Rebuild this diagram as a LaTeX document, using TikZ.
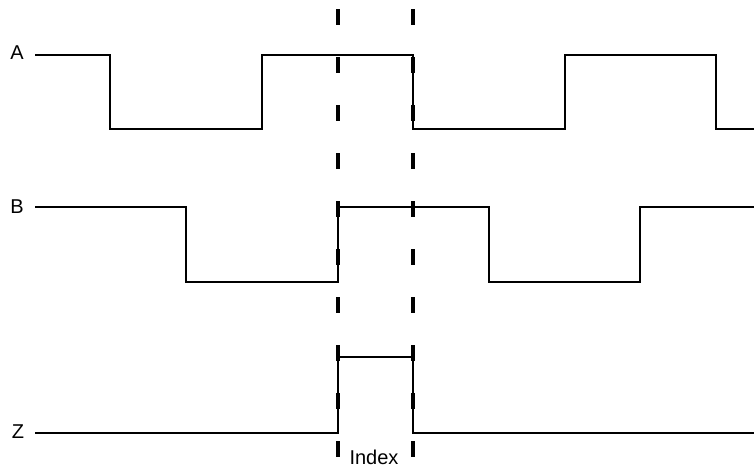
\documentclass[tikz,border=0pt]{standalone}
\usepackage{fontspec}
\setmainfont{Liberation Sans}
\begin{document}
\begin{tikzpicture}[x=1pt, y=-1pt]
% timing diagram of a quadrature encoder with index pulse
\providecommand{\sigLineWidth}{2.4pt}
\providecommand{\idxLineWidth}{4pt}
\tikzset{
  signal/.style={line width=\sigLineWidth, line join=miter},
  indexmark/.style={line width=\idxLineWidth, dash pattern=on 16pt off 32pt},
  siglabel/.style={font=\fontsize{20}{22}\selectfont, inner sep=0pt}
}
\useasboundingbox (0,0) rectangle (754,469);
% Signal labels
\node[siglabel] (labA) at (17,53) {A};
\node[siglabel] (labB) at (17,207) {B};
\node[siglabel] (labZ) at (18,432) {Z};
% Channel A
\draw[signal] (35,55) -| (110,129) -| (262,55) -| (413,129) -| (565,55) -| (716,129) -- (754,129);
% Channel B
\draw[signal] (35,207) -| (186,282) -| (338,207) -| (489,282) -| (640,207) -- (754,207);
% Index channel
\draw[signal] (35,433) -| (338,357) -| (413,433) -- (754,433);
% Index window
\foreach \x in {338,413}
  \draw[indexmark] (\x,9) -- (\x,469);
\node[siglabel] (labIdx) at (374,457) {Index};
\end{tikzpicture}
\end{document}
